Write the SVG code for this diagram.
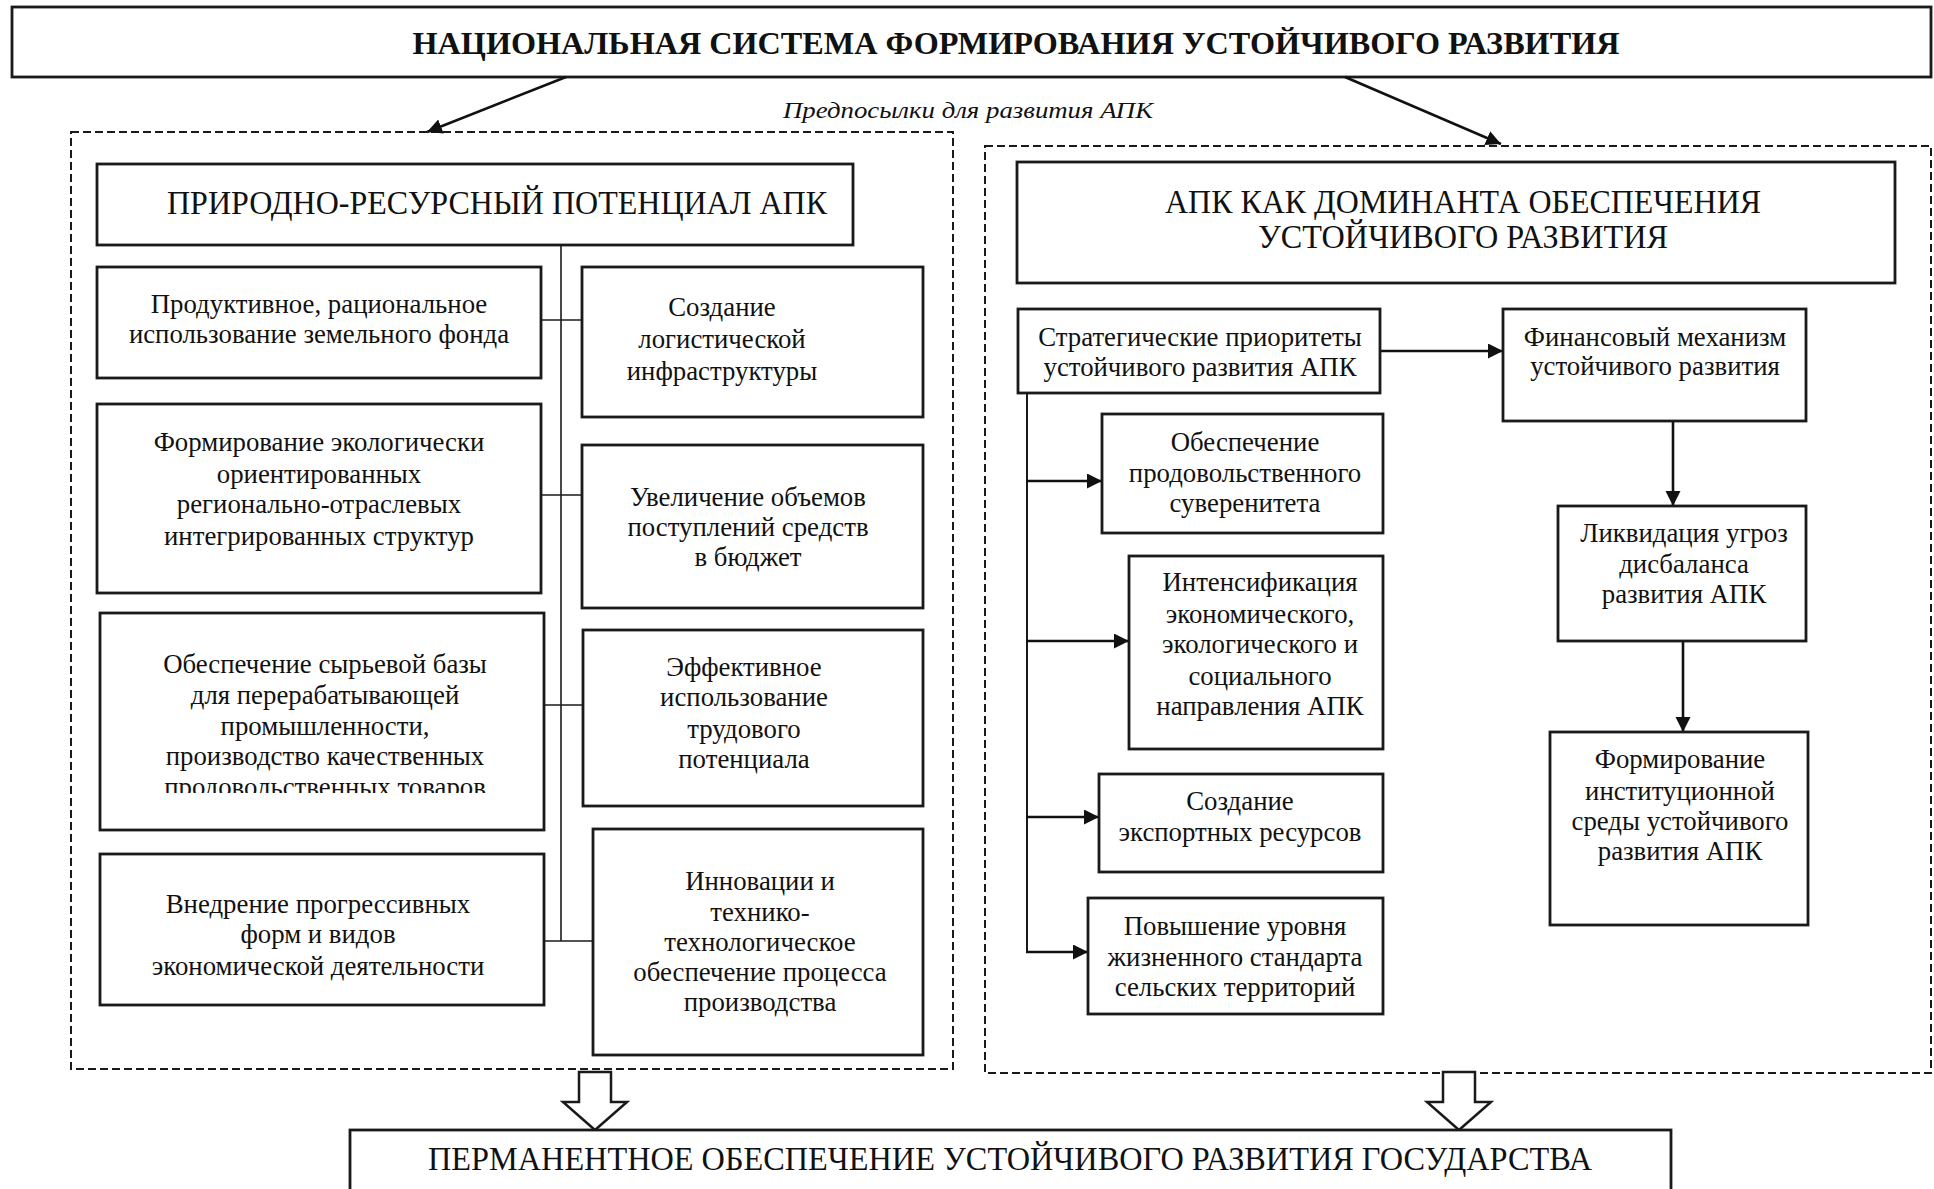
<svg xmlns="http://www.w3.org/2000/svg" width="1934" height="1189" viewBox="0 0 1934 1189">
<style>
.box{fill:#fff;stroke:#1a1a1a;stroke-width:2.8}
.dash{fill:none;stroke:#1a1a1a;stroke-width:2;stroke-dasharray:8 4}
.t{font-family:"Liberation Serif","Times New Roman",serif;font-size:26.8px;fill:#111;text-anchor:middle}
.cap{font-family:"Liberation Serif","Times New Roman",serif;font-size:33px;fill:#111;text-anchor:middle}
.title{font-family:"Liberation Serif","Times New Roman",serif;font-size:31px;font-weight:bold;fill:#111;text-anchor:middle}
.it{font-family:"Liberation Serif","Times New Roman",serif;font-size:24px;font-style:italic;fill:#111}
.ln{stroke:#1a1a1a;stroke-width:1.6;fill:none}
.arr{stroke:#111;stroke-width:2.6;fill:none;marker-end:url(#ah)}
.hollow{fill:#fff;stroke:#1a1a1a;stroke-width:2.5;stroke-linejoin:miter}
</style>
<defs>
<marker id="ah" markerUnits="userSpaceOnUse" markerWidth="16" markerHeight="16" refX="15" refY="7.5" orient="auto">
<path d="M0,0 L15,7.5 L0,15 Z" fill="#111"/>
</marker>
<clipPath id="clipb3"><rect x="100" y="613" width="444" height="180"/></clipPath>
</defs>
<rect width="1934" height="1189" fill="#fff"/>

<g id="title">
<rect class="box" x="12" y="7" width="1919" height="70"/>
<text class="title" x="1016" y="54" textLength="1207" lengthAdjust="spacingAndGlyphs">НАЦИОНАЛЬНАЯ СИСТЕМА ФОРМИРОВАНИЯ УСТОЙЧИВОГО РАЗВИТИЯ</text>
</g>

<g id="label-prereq">
<text class="it" x="783" y="118" textLength="370" lengthAdjust="spacingAndGlyphs">Предпосылки для развития АПК</text>
</g>

<g id="panel-left">
<rect class="dash" x="71" y="132" width="882" height="937"/>
</g>
<g id="panel-right">
<rect class="dash" x="985" y="146" width="946" height="927"/>
</g>

<g id="connectors">
<line class="arr" x1="566" y1="77" x2="427" y2="132"/>
<line class="arr" x1="1345" y1="77" x2="1501" y2="144"/>
<line class="ln" x1="561" y1="245" x2="561" y2="941"/>
<line class="ln" x1="541" y1="320" x2="582" y2="320"/>
<line class="ln" x1="541" y1="495" x2="582" y2="495"/>
<line class="ln" x1="544" y1="705" x2="583" y2="705"/>
<line class="ln" x1="544" y1="941" x2="593" y2="941"/>
<line class="ln" style="stroke-width:2" x1="1027" y1="393" x2="1027" y2="953"/>
<line class="arr" x1="1026" y1="481" x2="1102" y2="481"/>
<line class="arr" x1="1026" y1="641" x2="1129" y2="641"/>
<line class="arr" x1="1026" y1="817" x2="1099" y2="817"/>
<line class="arr" x1="1026" y1="952" x2="1088" y2="952"/>
<line class="arr" x1="1380" y1="351" x2="1503" y2="351"/>
<line class="arr" x1="1673" y1="421" x2="1673" y2="506"/>
<line class="arr" x1="1683" y1="641" x2="1683" y2="732"/>
<path class="hollow" d="M579,1072 L611,1072 L611,1102 L627,1102 L595,1130 L563,1102 L579,1102 Z"/>
<path class="hollow" d="M1443,1072 L1475,1072 L1475,1102 L1491,1102 L1459,1130 L1427,1102 L1443,1102 Z"/>
</g>

<g id="n-potential">
<rect class="box" x="97" y="164" width="756" height="81"/>
<text class="cap" x="497" y="214" textLength="660" lengthAdjust="spacingAndGlyphs">ПРИРОДНО-РЕСУРСНЫЙ ПОТЕНЦИАЛ АПК</text>
</g>

<g id="n-land">
<rect class="box" x="97" y="267" width="444" height="111"/>
<text class="t" x="319" y="313">Продуктивное, рациональное</text>
<text class="t" x="319" y="343">использование земельного фонда</text>
</g>

<g id="n-eco">
<rect class="box" x="97" y="404" width="444" height="189"/>
<text class="t" x="319" y="451">Формирование экологически</text>
<text class="t" x="319" y="483">ориентированных</text>
<text class="t" x="319" y="513">регионально-отраслевых</text>
<text class="t" x="319" y="545">интегрированных структур</text>
</g>

<g id="n-raw">
<rect class="box" x="100" y="613" width="444" height="217"/>
<g clip-path="url(#clipb3)">
<text class="t" x="325" y="673">Обеспечение сырьевой базы</text>
<text class="t" x="325" y="704">для перерабатывающей</text>
<text class="t" x="325" y="735">промышленности,</text>
<text class="t" x="325" y="765">производство качественных</text>
<text class="t" x="325" y="796">продовольственных товаров</text>
</g>
</g>

<g id="n-forms">
<rect class="box" x="100" y="854" width="444" height="151"/>
<text class="t" x="318" y="913">Внедрение прогрессивных</text>
<text class="t" x="318" y="943">форм и видов</text>
<text class="t" x="318" y="975">экономической деятельности</text>
</g>

<g id="n-logistics">
<rect class="box" x="582" y="267" width="341" height="150"/>
<text class="t" x="722" y="316">Создание</text>
<text class="t" x="722" y="348">логистической</text>
<text class="t" x="722" y="380">инфраструктуры</text>
</g>

<g id="n-budget">
<rect class="box" x="582" y="445" width="341" height="163"/>
<text class="t" x="748" y="506">Увеличение объемов</text>
<text class="t" x="748" y="536">поступлений средств</text>
<text class="t" x="748" y="566">в бюджет</text>
</g>

<g id="n-labour">
<rect class="box" x="583" y="630" width="340" height="176"/>
<text class="t" x="744" y="676">Эффективное</text>
<text class="t" x="744" y="706">использование</text>
<text class="t" x="744" y="738">трудового</text>
<text class="t" x="744" y="768">потенциала</text>
</g>

<g id="n-innov">
<rect class="box" x="593" y="829" width="330" height="226"/>
<text class="t" x="760" y="890">Инновации и</text>
<text class="t" x="760" y="921">технико-</text>
<text class="t" x="760" y="951">технологическое</text>
<text class="t" x="760" y="981">обеспечение процесса</text>
<text class="t" x="760" y="1011">производства</text>
</g>

<g id="n-dominant">
<rect class="box" x="1017" y="162" width="878" height="121"/>
<text class="cap" x="1463" y="213" textLength="596" lengthAdjust="spacingAndGlyphs">АПК КАК ДОМИНАНТА ОБЕСПЕЧЕНИЯ</text>
<text class="cap" x="1463" y="248" textLength="410" lengthAdjust="spacingAndGlyphs">УСТОЙЧИВОГО РАЗВИТИЯ</text>
</g>

<g id="n-strategic">
<rect class="box" x="1018" y="309" width="362" height="84"/>
<text class="t" x="1200" y="346">Стратегические приоритеты</text>
<text class="t" x="1200" y="376">устойчивого развития АПК</text>
</g>

<g id="n-finance">
<rect class="box" x="1503" y="309" width="303" height="112"/>
<text class="t" x="1655" y="346">Финансовый механизм</text>
<text class="t" x="1655" y="375">устойчивого развития</text>
</g>

<g id="n-food">
<rect class="box" x="1102" y="414" width="281" height="119"/>
<text class="t" x="1245" y="451">Обеспечение</text>
<text class="t" x="1245" y="482">продовольственного</text>
<text class="t" x="1245" y="512">суверенитета</text>
</g>

<g id="n-intens">
<rect class="box" x="1129" y="556" width="254" height="193"/>
<text class="t" x="1260" y="591">Интенсификация</text>
<text class="t" x="1260" y="623">экономического,</text>
<text class="t" x="1260" y="653">экологического и</text>
<text class="t" x="1260" y="685">социального</text>
<text class="t" x="1260" y="715">направления АПК</text>
</g>

<g id="n-export">
<rect class="box" x="1099" y="774" width="284" height="98"/>
<text class="t" x="1240" y="810">Создание</text>
<text class="t" x="1240" y="841">экспортных ресурсов</text>
</g>

<g id="n-living">
<rect class="box" x="1088" y="898" width="295" height="116"/>
<text class="t" x="1235" y="935">Повышение уровня</text>
<text class="t" x="1235" y="966">жизненного стандарта</text>
<text class="t" x="1235" y="996">сельских территорий</text>
</g>

<g id="n-threats">
<rect class="box" x="1558" y="506" width="248" height="135"/>
<text class="t" x="1684" y="542">Ликвидация угроз</text>
<text class="t" x="1684" y="573">дисбаланса</text>
<text class="t" x="1684" y="603">развития АПК</text>
</g>

<g id="n-institut">
<rect class="box" x="1550" y="732" width="258" height="193"/>
<text class="t" x="1680" y="768">Формирование</text>
<text class="t" x="1680" y="800">институционной</text>
<text class="t" x="1680" y="830">среды устойчивого</text>
<text class="t" x="1680" y="860">развития АПК</text>
</g>

<g id="n-permanent">
<rect class="box" x="350" y="1130" width="1321" height="80"/>
<text class="cap" x="1010" y="1170" textLength="1164" lengthAdjust="spacingAndGlyphs">ПЕРМАНЕНТНОЕ ОБЕСПЕЧЕНИЕ УСТОЙЧИВОГО РАЗВИТИЯ ГОСУДАРСТВА</text>
</g>
</svg>
